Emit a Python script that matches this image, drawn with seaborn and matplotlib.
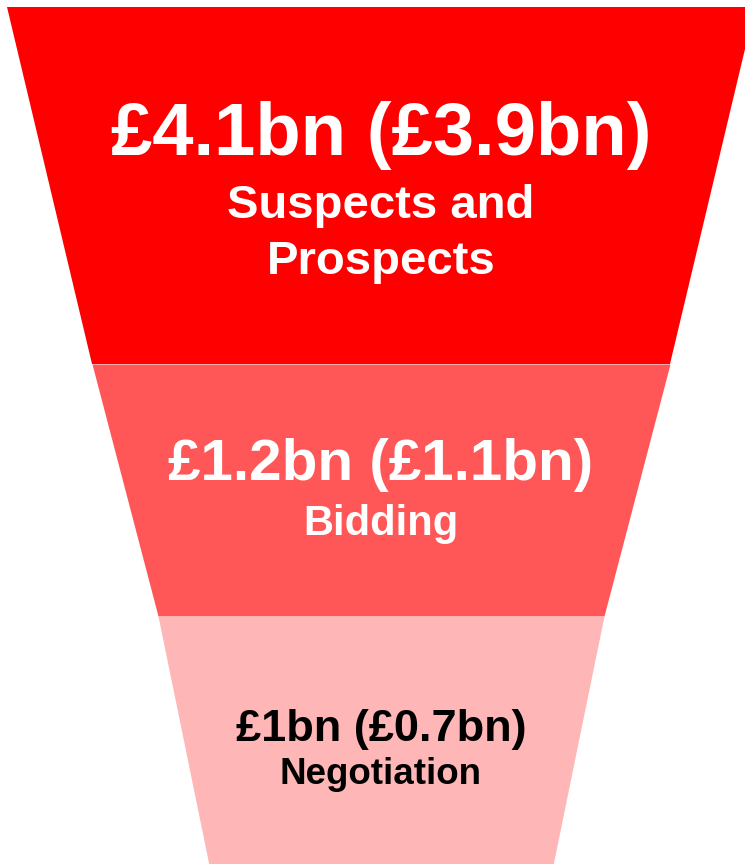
import matplotlib.pyplot as plt
import seaborn as sns

# Data
stages = ["Suspects and\nProspects", "Bidding", "Negotiation"]
values = ["£4.1bn", "£1.2bn", "£1bn"]
prior_values = ["£3.9bn", "£1.1bn", "£0.7bn"]

# Layout (pixel-like coords, y pointing down)
edges_y = [7, 364, 616, 870]
half_widths = [374, 289, 223, 171]
center_x = 381
colors = ["#FF0000", "#FF5757", "#FFB6B6"]
text_colors = ["white", "white", "black"]
value_y = [135, 465, 729]
value_size = [53.5, 42, 32.5]
label_y = [234, 524, 775]
label_size = [34, 30, 26.5]

sns.set_theme(style="white")
plt.rcParams['font.family'] = ['Liberation Sans', 'DejaVu Sans']

fig = plt.figure(figsize=(7.45, 8.64), dpi=100)
ax = fig.add_axes([0, 0, 1, 1])
ax.set_xlim(0, 745)
ax.set_ylim(864, 0)
ax.axis('off')

for i, stage in enumerate(stages):
    y0, y1 = edges_y[i], edges_y[i + 1]
    h0, h1 = half_widths[i], half_widths[i + 1]
    ax.fill_betweenx([y0, y1], [center_x - h0, center_x - h1], [center_x + h0, center_x + h1],
                     color=colors[i], linewidth=0)
    ax.text(center_x, value_y[i], f"{values[i]} ({prior_values[i]})", ha='center', va='center',
            fontsize=value_size[i], fontweight='bold', color=text_colors[i])
    ax.text(center_x, label_y[i], stage, ha='center', va='center', fontsize=label_size[i],
            fontweight='bold', color=text_colors[i], linespacing=1.38)

fig.savefig('out.png', dpi=100)
